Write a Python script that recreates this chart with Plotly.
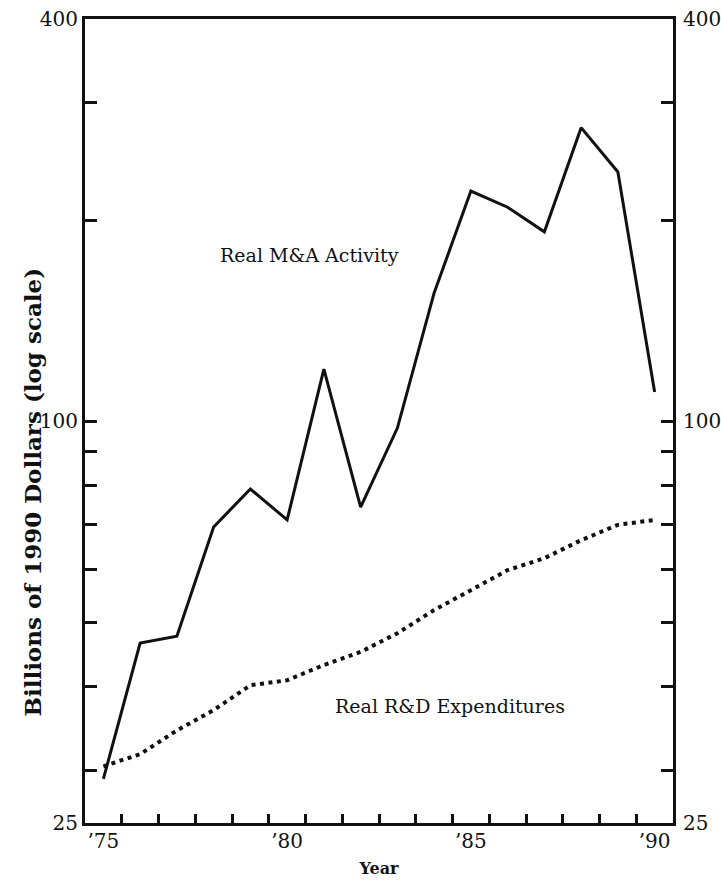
import plotly.graph_objects as go

# Annual values, plotted at mid-year
years = list(range(1975, 1991))
ma_activity = [29.1, 46.5, 47.6, 69.4, 79.1, 71.1, 119.6, 74.3, 97.6, 155.5,
               221.0, 209.0, 192.0, 275.0, 236.0, 110.5]
rd_expenditures = [30.4, 31.7, 34.4, 36.9, 40.2, 40.9, 43.1, 45.1, 48.1, 52.1,
                   55.8, 59.8, 62.3, 66.3, 69.9, 71.1]

y_ticks = [25, 30, 40, 50, 60, 70, 80, 90, 100, 200, 300, 400]
y_labels = ["25", "", "", "", "", "", "", "", "100", "", "", "400"]
year_ticks = list(range(1976, 1991))
year_labels = ["’75", "’80", "’85", "’90"]
year_label_pos = [1975.5, 1980.5, 1985.5, 1990.5]

INK = "#111111"
SERIF = "DejaVu Serif"
x_mid = [y + 0.5 for y in years]
x_range = [1975, 1991]
y_range = [1.39794, 2.60206]  # log10(25) .. log10(400)

fig = go.Figure()
fig.add_trace(go.Scatter(x=x_mid, y=ma_activity, mode="lines",
                         line=dict(color=INK, width=3), showlegend=False))
fig.add_trace(go.Scatter(x=x_mid, y=rd_expenditures, mode="lines",
                         line=dict(color=INK, width=4, dash="4px,4.5px"),
                         showlegend=False))
# invisible trace to activate the right-hand axis
fig.add_trace(go.Scatter(x=[x_mid[0]], y=[ma_activity[0]], yaxis="y2",
                         mode="markers", marker=dict(opacity=0),
                         showlegend=False, hoverinfo="skip"))
# invisible trace to activate the year-label axis
fig.add_trace(go.Scatter(x=[x_mid[0]], y=[ma_activity[0]], xaxis="x2",
                         mode="markers", marker=dict(opacity=0),
                         showlegend=False, hoverinfo="skip"))

axis_font = dict(family=SERIF, size=20, color=INK)

fig.update_layout(
    width=721, height=882,
    margin=dict(l=85, r=48, t=19, b=59),
    paper_bgcolor="white", plot_bgcolor="white",
    xaxis=dict(range=x_range, showgrid=False, zeroline=False, automargin=False,
               showline=True, linecolor=INK, linewidth=3, mirror=True,
               ticks="inside", ticklen=9, tickwidth=2.5, tickcolor=INK,
               tickvals=year_ticks, ticktext=[""] * len(year_ticks),
               title=dict(text="<b>Year</b>", standoff=36,
                          font=dict(family=SERIF, size=16, color=INK))),
    xaxis2=dict(range=x_range, overlaying="x", side="bottom", automargin=False,
                showgrid=False, zeroline=False, showline=False, ticks="",
                tickvals=year_label_pos, ticktext=year_labels,
                ticklabelstandoff=4, tickfont=axis_font),
    yaxis=dict(type="log", range=y_range, showgrid=False, zeroline=False,
               automargin=False,
               showline=True, linecolor=INK, linewidth=3,
               ticks="inside", ticklen=12, tickwidth=3, tickcolor=INK,
               tickvals=y_ticks, ticktext=y_labels, tickfont=axis_font),
    yaxis2=dict(type="log", range=y_range, overlaying="y", side="right",
                showgrid=False, zeroline=False, automargin=False,
                showline=True, linecolor=INK, linewidth=3,
                ticks="inside", ticklen=12, tickwidth=3, tickcolor=INK,
                tickvals=y_ticks, ticktext=y_labels, ticklabelstandoff=3,
                tickfont=axis_font),
    annotations=[
        dict(x=-0.1156, y=0.4117, xref="paper", yref="paper",
             text="<b>Billions of 1990 Dollars (log scale)</b>",
             textangle=-90, showarrow=False,
             font=dict(family=SERIF, size=23, color=INK)),
        dict(x=1981.1, y=2.248, xref="x", yref="y", text="Real M&A Activity",
             showarrow=False, font=dict(family=SERIF, size=19, color=INK)),
        dict(x=1984.93, y=1.573, xref="x", yref="y",
             text="Real R&D Expenditures", showarrow=False,
             font=dict(family=SERIF, size=19, color=INK)),
    ],
)

fig.write_html("out.html")
